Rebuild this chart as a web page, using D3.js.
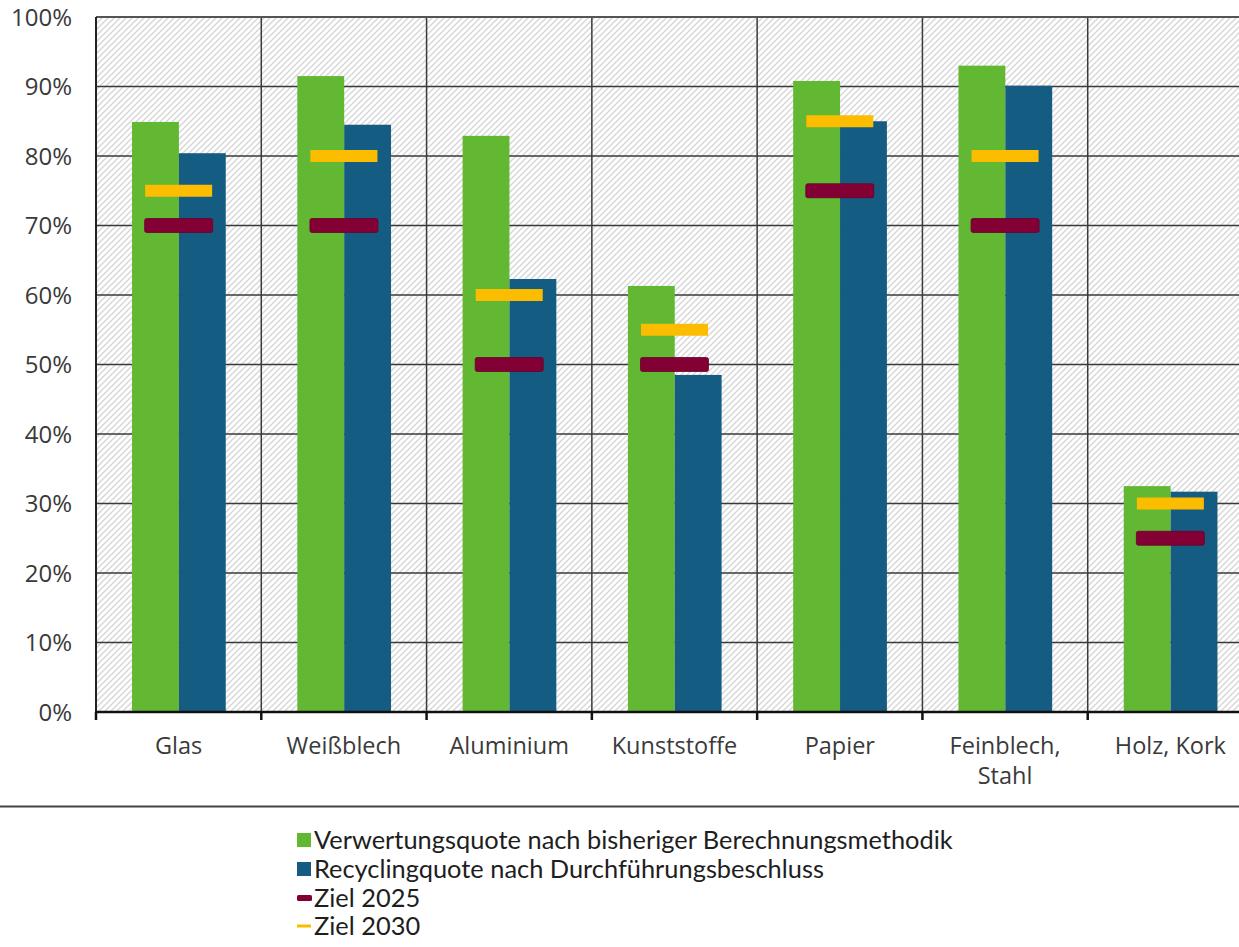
<!DOCTYPE html>
<html><head><meta charset="utf-8">
<script src="https://cdn.jsdelivr.net/npm/d3@7"></script>
<style>body{margin:0;background:#fff}svg{display:block}</style>
</head><body>
<svg id="c" width="1239" height="947"></svg>
<script>
const categories = ["Glas","Weißblech","Aluminium","Kunststoffe","Papier","Feinblech,\nStahl","Holz, Kork"];
const verwertung = [84.9, 91.5, 82.9, 61.3, 90.8, 93.0, 32.5];
const recycling = [80.4, 84.5, 62.3, 48.5, 85.0, 90.1, 31.7];
const ziel2025 = [70, 70, 50, 50, 75, 70, 25];
const ziel2030 = [75, 80, 60, 55, 85, 80, 30];
const yTicks = [0,10,20,30,40,50,60,70,80,90,100];
const seriesNames = ["Verwertungsquote nach bisheriger Berechnungsmethodik","Recyclingquote nach Durchführungsbeschluss","Ziel 2025","Ziel 2030"];
const colors = {green:"#62b832", blue:"#145c82", maroon:"#820034", yellow:"#fcbd00"};

const svg = d3.select("#c");
const m = {left:96, top:17, right:1253, bottom:712};
const x = d3.scaleBand().domain(categories).range([m.left, m.right]).padding(0);
const y = d3.scaleLinear().domain([0,100]).range([m.bottom, m.top]);
const bw = x.bandwidth();
const x1 = d3.scaleBand().domain(["v","r"]).range([bw*0.218, bw*0.785]).padding(0);

// hatch pattern
const defs = svg.append("defs");
const pat = defs.append("pattern").attr("id","hatch").attr("patternUnits","userSpaceOnUse")
  .attr("width",6).attr("height",6);
pat.append("rect").attr("width",6).attr("height",6).attr("fill","#fff");
pat.append("path").attr("d","M-1,1 l2,-2 M0,6 l6,-6 M5,7 l2,-2").attr("stroke","#d6d6d6").attr("stroke-width",1.4);

svg.append("rect").attr("x",m.left).attr("y",m.top).attr("width",m.right-m.left).attr("height",m.bottom-m.top).attr("fill","url(#hatch)");

// grid
svg.append("g").selectAll("line.h").data(yTicks.filter(d=>d>0)).join("line")
  .attr("x1",m.left).attr("x2",m.right).attr("y1",d=>y(d)).attr("y2",d=>y(d))
  .attr("stroke","#3a3a3a").attr("stroke-width",1.5);
svg.append("g").selectAll("line.v").data(categories.slice(1)).join("line")
  .attr("x1",d=>x(d)).attr("x2",d=>x(d)).attr("y1",m.top).attr("y2",m.bottom)
  .attr("stroke","#3a3a3a").attr("stroke-width",1.5);

// bars
const g = svg.append("g");
g.selectAll("rect.v").data(categories).join("rect")
  .attr("x",d=>x(d)+x1("v")).attr("width",x1.bandwidth())
  .attr("y",(d,i)=>y(verwertung[i])).attr("height",(d,i)=>y(0)-y(verwertung[i]))
  .attr("fill",colors.green);
g.selectAll("rect.r").data(categories).join("rect")
  .attr("x",d=>x(d)+x1("r")).attr("width",x1.bandwidth())
  .attr("y",(d,i)=>y(recycling[i])).attr("height",(d,i)=>y(0)-y(recycling[i]))
  .attr("fill",colors.blue);

// targets
const mw = 67;
g.selectAll("rect.z30").data(categories).join("rect")
  .attr("x",d=>x(d)+bw/2-mw/2).attr("width",mw)
  .attr("y",(d,i)=>y(ziel2030[i])-6).attr("height",12)
  .attr("fill",colors.yellow);
g.selectAll("rect.z25").data(categories).join("rect")
  .attr("x",d=>x(d)+bw/2-mw/2-0.5).attr("width",mw+1)
  .attr("y",(d,i)=>y(ziel2025[i])-7).attr("height",14).attr("rx",2)
  .attr("fill",colors.maroon).attr("stroke","#6a0029").attr("stroke-width",0.8);

// axes
svg.append("line").attr("x1",m.left).attr("x2",m.right).attr("y1",m.top).attr("y2",m.top).attr("stroke","#555").attr("stroke-width",2);
svg.append("line").attr("x1",m.left).attr("x2",m.left).attr("y1",m.top).attr("y2",m.bottom).attr("stroke","#222").attr("stroke-width",2);
svg.append("line").attr("x1",m.left-1).attr("x2",m.right).attr("y1",m.bottom).attr("y2",m.bottom).attr("stroke","#111").attr("stroke-width",2.5);
svg.append("g").selectAll("line").data(categories.map(d=>x(d)).concat([m.right])).join("line")
  .attr("x1",d=>d).attr("x2",d=>d).attr("y1",m.bottom).attr("y2",m.bottom+8)
  .attr("stroke","#111").attr("stroke-width",2.5);

const font = "'Open Sans', sans-serif";
svg.append("g").selectAll("text").data(yTicks).join("text")
  .attr("x",72).attr("y",d=>y(d)).attr("dy","0.36em").attr("text-anchor","end")
  .attr("font-family",font).attr("font-size",24).attr("fill","#3a3a3a")
  .text(d=>d+"%");

const xl = svg.append("g").selectAll("text").data(categories).join("text")
  .attr("x",d=>x(d)+bw/2).attr("y",754).attr("text-anchor","middle")
  .attr("font-family",font).attr("font-size",23.5).attr("fill","#3a3a3a");
xl.each(function(d){
  const t = d3.select(this);
  d.split("\n").forEach((s,i)=>t.append("tspan").attr("x",x(d)+bw/2).attr("dy",i?30:0).text(s));
});

// separator
svg.append("line").attr("x1",0).attr("x2",1239).attr("y1",806.5).attr("y2",806.5).attr("stroke","#444").attr("stroke-width",2);

// legend
const lg = svg.append("g");
const ly = [840, 869, 898, 926];
const lfont = "Lato, sans-serif";
seriesNames.forEach((s,i)=>{
  if(i<2){
    lg.append("rect").attr("x",297).attr("y",ly[i]-7).attr("width",14).attr("height",14)
      .attr("fill",i==0?colors.green:colors.blue);
  } else if(i==2){
    lg.append("rect").attr("x",297).attr("y",ly[i]-3).attr("width",15).attr("height",6).attr("rx",1.5).attr("fill",colors.maroon);
  } else {
    lg.append("rect").attr("x",297).attr("y",ly[i]-1.5).attr("width",14).attr("height",3).attr("fill",colors.yellow);
  }
  lg.append("text").attr("x",314).attr("y",ly[i]).attr("dy","0.36em")
    .attr("font-family",lfont).attr("font-size",25.4).attr("fill","#1e1e1e").text(s);
});
</script>
</body></html>
